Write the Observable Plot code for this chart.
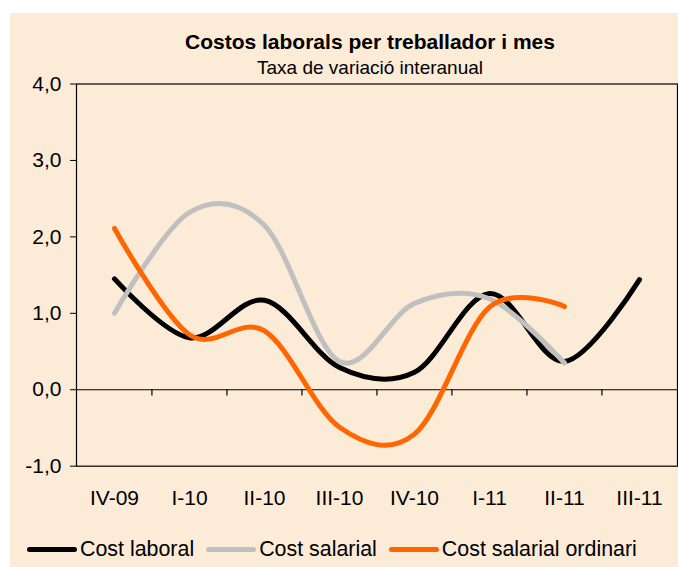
<!DOCTYPE html>
<html>
<head>
<meta charset="utf-8">
<script src="https://cdn.jsdelivr.net/npm/d3@7"></script>
<script src="https://cdn.jsdelivr.net/npm/@observablehq/plot@0.6"></script>
<style>
  html, body { margin: 0; padding: 0; background: #ffffff; }
  body { width: 678px; height: 567px; position: relative; overflow: hidden; font-family: "Liberation Sans", Arial, sans-serif; }
  #bg { position: absolute; left: 10px; top: 13px; width: 668px; height: 554px; background: #FBEBD7; }
  #title { position: absolute; left: 70px; width: 600px; top: 30px; text-align: center; font-weight: bold; font-size: 21px; color: #000; }
  #subtitle { position: absolute; left: 70px; width: 600px; top: 57px; text-align: center; font-size: 19px; color: #000; }
  #chart { position: absolute; left: 0; top: 0; }
  #legend { position: absolute; left: 27px; top: 537px; display: flex; align-items: center; font-size: 21.4px; color: #000; white-space: nowrap; }
  .item { display: flex; align-items: center; margin-right: 12px; }
  .sw { width: 50px; height: 5px; border-radius: 3px; margin-right: 3px; }
</style>
</head>
<body>
<div id="bg"></div>
<div id="title">Costos laborals per treballador i mes</div>
<div id="subtitle">Taxa de variació interanual</div>
<div id="chart"></div>
<div id="legend"></div>
<script>
const categories = ["IV-09", "I-10", "II-10", "III-10", "IV-10", "I-11", "II-11", "III-11"];
const costLaboral = [1.45, 0.68, 1.17, 0.29, 0.23, 1.26, 0.37, 1.44];
const costSalarial = [1.00, 2.32, 2.15, 0.37, 1.13, 1.19, 0.35];
const costSalarialOrdinari = [2.11, 0.72, 0.77, -0.49, -0.58, 1.08, 1.09];
const seriesNames = ["Cost laboral", "Cost salarial", "Cost salarial ordinari"];
const seriesColors = ["#000000", "#C0C0C0", "#FF6600"];
const yTicks = [-1, 0, 1, 2, 3, 4];

const seriesValues = [costLaboral, costSalarial, costSalarialOrdinari];
const data = [];
seriesValues.forEach((vals, si) => {
  vals.forEach((v, i) => data.push({series: seriesNames[si], cat: categories[i], value: v}));
});

const W = 678, H = 520, ML = 76, MR = 1, MT = 83.5, MB = 54.3;
const step = (W - ML - MR) / categories.length;

const plot = Plot.plot({
  width: W,
  height: H,
  marginLeft: ML,
  marginRight: MR,
  marginTop: MT,
  marginBottom: MB,
  style: {background: "transparent", fontFamily: "Liberation Sans, Arial, sans-serif", fontSize: "21px", color: "#000"},
  x: {type: "point", domain: categories, padding: 0.5, label: null},
  y: {domain: [-1, 4], label: null},
  color: {domain: seriesNames, range: seriesColors},
  marks: [
    Plot.frame({stroke: "#000", strokeWidth: 1.2}),
    Plot.ruleY([0], {stroke: "#000", strokeWidth: 1.2}),
    Plot.ruleX(categories.slice(1), {x: d => d, y1: 0, y2: -0.08, dx: -step / 2, stroke: "#000", strokeWidth: 1.2}),
    Plot.axisY({ticks: yTicks, tickSize: 6, tickPadding: 9, tickFormat: d => d.toFixed(1).replace(".", ","), fontSize: 21}),
    Plot.axisX({tickSize: 0, tickPadding: 24, fontSize: 21}),
    Plot.line(data, {x: "cat", y: "value", z: "series", stroke: "series", strokeWidth: 5, curve: "cardinal", strokeLinecap: "round", strokeLinejoin: "round"})
  ]
});
document.getElementById("chart").appendChild(plot);

const legend = document.getElementById("legend");
seriesNames.forEach((name, i) => {
  const item = document.createElement("div");
  item.className = "item";
  const sw = document.createElement("div");
  sw.className = "sw";
  sw.style.background = seriesColors[i];
  const t = document.createElement("span");
  t.textContent = name;
  item.appendChild(sw);
  item.appendChild(t);
  legend.appendChild(item);
});
</script>
</body>
</html>
